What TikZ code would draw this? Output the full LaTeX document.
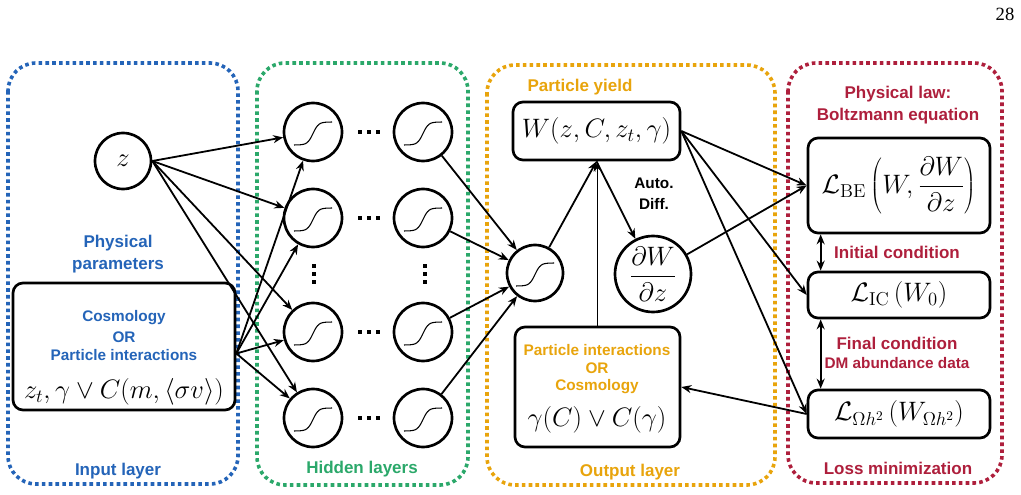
\documentclass[tikz,border=0pt]{standalone}
\usepackage{fix-cm}
\usepackage{fontspec}
\setsansfont{Liberation Sans}
\newfontfamily\pagefont{Liberation Serif}
\usetikzlibrary{arrows.meta,calc}
\definecolor{cblue}{HTML}{2464B8}
\definecolor{cgreen}{HTML}{2BA86A}
\definecolor{corange}{HTML}{E8A40C}
\definecolor{cred}{HTML}{AE1F3C}
\begin{document}
\begin{tikzpicture}[x=0.75pt,y=-0.75pt,
  frame/.style={line width=2.7pt, dash pattern=on 2.7pt off 2.4pt, rounded corners=21pt},
  neuron/.style={circle, draw, line width=2pt, minimum size=#1*1.5pt, inner sep=0pt},
  blk/.style 2 args={draw, line width=2pt, rounded corners=7.5pt, minimum width=#1*0.75pt, minimum height=#2*0.75pt, inner sep=0pt},
  lab/.style={font=\sffamily\bfseries\fontsize{12.75}{14}\selectfont, inner sep=0pt},
  slab/.style={font=\sffamily\bfseries\fontsize{11.5}{13}\selectfont, inner sep=0pt},
  mth/.style={font=\fontsize{20}{24}\selectfont, inner sep=0pt},
  conn/.style={line width=1.35pt, -{Stealth[length=7.5pt,width=6pt]}},
  dconn/.style={line width=1.35pt, {Stealth[length=7.5pt,width=6pt]}-{Stealth[length=7.5pt,width=6pt]}},
  sig/.pic={\draw[line width=0.8pt] plot[domain=-19:19,samples=30] (\x,{-11.5*tanh(\x/5.5)+1.5});},
  hdots/.pic={\foreach \d in {-9,0,9} \fill (\d-2.2,-2.2) rectangle (\d+2.2,2.2);},
  vdots/.pic={\foreach \d in {-8,0,8} \fill (-2.2,\d-2.2) rectangle (2.2,\d+2.2);}
]
\useasboundingbox (0,0) rectangle (1021,495);

% frames
\draw[frame, cblue] (8,63) rectangle (238,484);
\draw[frame, cgreen] (257,63) rectangle (468,485);
\draw[frame, corange] (487,65) rectangle (775,485);
\draw[frame, cred] (788,63) rectangle (1002,483);

% page number
\node[font=\pagefont\fontsize{14}{16}\selectfont, inner sep=0pt] (pg) at (1005,14) {28};

% input layer
\node[neuron=28, mth] (z) at (123,161) {$z$};
\node[lab, cblue, align=center] (pp) at (118,254) {Physical\\[3pt]parameters};
\node[blk={222}{127}] (inbox) at (124,346.5) {};
\node[slab, cblue] (ib1) at (124,318) {Cosmology};
\node[slab, cblue] (ib2) at (124,337) {OR};
\node[slab, cblue] (ib3) at (124,355) {Particle interactions};
\node[mth] (ib4) at (124,392) {$z_t,\gamma\vee C(m,\langle\sigma v\rangle)$};
\node[lab, cblue] (inl) at (118,471) {Input layer};
\coordinate (ib) at ($(inbox.east)+(0,7)$);

% hidden layers
\foreach \r/\y in {1/132,2/218,3/332,4/418} {
  \node[neuron=29] (h1\r) at (313,\y) {};
  \node[neuron=29] (h2\r) at (423,\y) {};
  \pic at (h1\r) {sig};
  \pic at (h2\r) {sig};
  \pic at (369,\y) {hdots};
}
\pic at (314,274) {vdots};
\pic at (425,274) {vdots};
\node[lab, cgreen] (hl) at (362,469) {Hidden layers};

% output layer
\node[neuron=28] (out) at (535,273) {};
\pic at (out) {sig};
\node[lab, corange] (py) at (580,87) {Particle yield};
\node[blk={167}{58}, mth] (W) at (596.5,131) {$W(z,C,z_t,\gamma)$};
\node[neuron=38, mth] (dW) at (653,274) {$\displaystyle\frac{\partial W}{\partial z}$};
\node[slab, black, align=center] (ad) at (654,194) {Auto.\\[3pt]Diff.};
\node[blk={165}{120}] (ob) at (597.5,387) {};
\node[slab, corange] (ob1) at (597,350) {Particle interactions};
\node[slab, corange] (ob2) at (597,368) {OR};
\node[slab, corange] (ob3) at (597,387) {Cosmology};
\node[mth] (ob4) at (597,420) {$\gamma(C)\vee C(\gamma)$};
\node[lab, corange] (ol) at (630,472) {Output layer};

% loss
\node[lab, cred, align=center] (pl) at (898,105) {Physical law:\\[3pt]Boltzmann equation};
\node[blk={182}{95}, mth] (LBE) at (899,185.5) {$\mathcal{L}_{\mathrm{BE}}\left(W,\displaystyle\frac{\partial W}{\partial z}\right)$};
\node[lab, cred] (icl) at (897,252) {Initial condition};
\node[blk={182}{46}, mth] (LIC) at (899,295) {$\mathcal{L}_{\mathrm{IC}}\left(W_0\right)$};
\node[lab, cred] (fcl) at (897,343) {Final condition};
\node[slab, cred] (dml) at (897,363) {DM abundance data};
\node[blk={182}{48}, mth] (LOm) at (899,414) {$\mathcal{L}_{\Omega h^2}\left(W_{\Omega h^2}\right)$};
\node[lab, cred] (lml) at (898,468) {Loss minimization};

% connectors
\foreach \r in {1,...,4} {
  \draw[conn] (z.east) -- (h1\r);
  \draw[conn] (ib) -- (h1\r);
  \draw[conn] (h2\r) -- (out);
}
\draw[conn] (out) -- (W.south);
\draw[conn] (ob.north) -- (ob.north |- W.south);
\draw[conn] (W.south) -- (dW);
\draw[conn] (W.east) -- (LBE.west);
\draw[conn] (W.east) -- (LIC.west);
\draw[conn] (W.east) -- (LOm.west);
\draw[conn] (dW) -- (LBE.west);
\draw[conn] (LOm.west) -- (ob.east);
\draw[dconn] ($(LBE.south west)+(14,0)$) -- ($(LIC.north west)+(14,0)$);
\draw[dconn] ($(LIC.south west)+(14,0)$) -- ($(LOm.north west)+(14,0)$);
\end{tikzpicture}
\end{document}
